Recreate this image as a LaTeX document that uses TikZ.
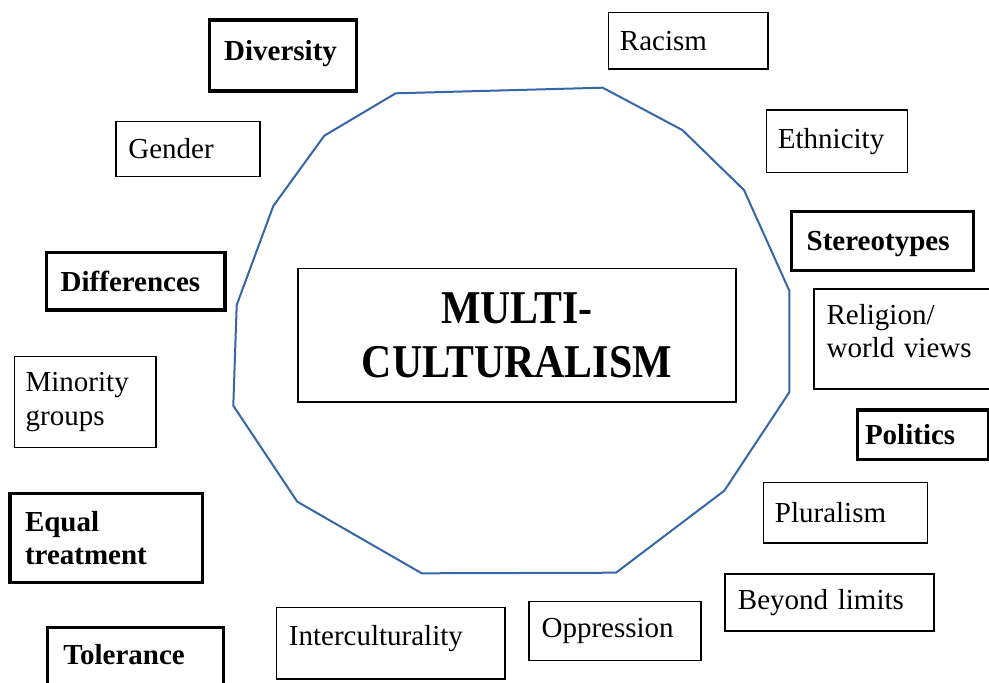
\documentclass[tikz,border=0pt]{standalone}
\usepackage{fontspec}
\setmainfont{Liberation Serif}
\newfontfamily\titlefont[FakeStretch=0.89]{Liberation Serif}
\newlength{\du}
\setlength{\du}{1pt}
\definecolor{ringcolor}{rgb}{0.212, 0.400, 0.667}
\tikzset{
  topicbox/.style={draw=black, line width=1.3\du, anchor=north west, align=left,
    inner ysep=0pt, font=\fontsize{29}{33.5}\selectfont},
  keybox/.style={topicbox, line width=3.4\du, font=\fontsize{29}{33.5}\selectfont\bfseries},
  titlebox/.style={draw=black, line width=1.3\du, anchor=north west, align=center,
    inner sep=0pt, font=\titlefont\fontsize{47}{53.5}\selectfont\bfseries},
  ringline/.style={draw=ringcolor, line width=2\du, line join=round}
}

\begin{document}
\begin{tikzpicture}
\pgftransformxscale{1.000000}
\pgftransformyscale{-1.000000}
\useasboundingbox (0\du,0\du) rectangle (989\du,683\du);
% ring round the title
\draw[ringline] (395.7\du,93.3\du) -- (602.7\du,87.7\du) -- (682.3\du,130.0\du) -- (744.0\du,190.0\du)
  -- (789.3\du,290.7\du) -- (789.3\du,392.3\du) -- (724.3\du,490.7\du) -- (616.0\du,572.7\du)
  -- (421.7\du,573.3\du) -- (297.3\du,501.7\du) -- (233.3\du,405.7\du) -- (236.7\du,305.0\du)
  -- (273.3\du,206.0\du) -- (324.3\du,135.7\du) -- cycle;
% title
\node[titlebox, minimum width=438\du, minimum height=133.4\du] (multi) at (297.3\du,268\du){MULTI-\\CULTURALISM};
% bold boxes
\node[keybox, inner xsep=14.5\du, text width=118\du, minimum height=71\du, text depth=11\du] (diversity) at (208\du,18.3\du){Diversity};
\node[keybox, inner xsep=15\du, text width=151.7\du, minimum height=59\du, text depth=0\du] (stereotypes) at (790\du,210\du){Stereotypes};
\node[keybox, inner xsep=14\du, text width=150.3\du, minimum height=57.6\du] (differences) at (45\du,250.7\du){Differences};
\node[keybox, inner xsep=7.6\du, text width=115.8\du, minimum height=49.4\du] (politics) at (855.7\du,408.3\du){Politics};
\node[keybox, inner xsep=15\du, text width=162.7\du, minimum height=89\du] (equal) at (8.3\du,491.7\du){Equal\\treatment};
\node[keybox, inner xsep=16\du, text width=144\du, minimum height=64\du, text depth=10\du] (tolerance) at (45.7\du,626\du){Tolerance};
% plain boxes
\node[topicbox, inner xsep=11.6\du, text width=136.4\du, minimum height=56.6\du] (racism) at (607.7\du,11.7\du){Racism};
\node[topicbox, inner xsep=12.4\du, text width=119.2\du, minimum height=55.3\du] (gender) at (115.3\du,120.7\du){Gender};
\node[topicbox, inner xsep=11.6\du, text width=118.1\du, minimum height=62.4\du] (ethnicity) at (765.7\du,109.3\du){Ethnicity};
\node[topicbox, inner xsep=12.7\du, text width=152.6\du, minimum height=100\du, text depth=50\du] (religion) at (813.3\du,288.3\du){Religion/\\world views};
\node[topicbox, inner xsep=11.3\du, text width=119\du, minimum height=90.7\du] (minority) at (13.7\du,356\du){Minority\\groups};
\node[topicbox, inner xsep=11.6\du, text width=140.6\du, minimum height=60.6\du] (pluralism) at (762.7\du,481.7\du){Pluralism};
\node[topicbox, inner xsep=13\du, text width=183\du, minimum height=57\du] (beyond) at (724.3\du,573.3\du){Beyond limits};
\node[topicbox, inner xsep=12.6\du, text width=203.4\du, minimum height=71.6\du, text depth=15\du] (intercult) at (275.7\du,606.7\du){Interculturality};
\node[topicbox, inner xsep=12.7\du, text width=146.6\du, minimum height=59.3\du] (oppression) at (528.3\du,600.7\du){Oppression};
\end{tikzpicture}
\end{document}
